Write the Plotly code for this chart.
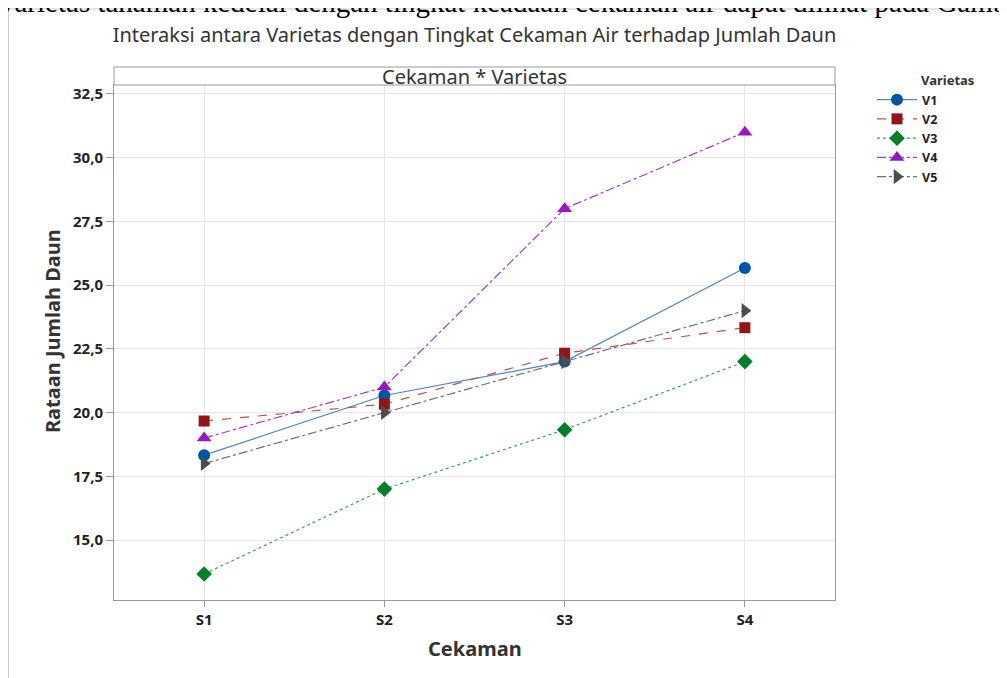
import plotly.graph_objects as go

categories = ["S1", "S2", "S3", "S4"]
series_names = ["V1", "V2", "V3", "V4", "V5"]
v1 = [18.33, 20.67, 22.0, 25.67]
v2 = [19.67, 20.33, 22.33, 23.33]
v3 = [13.67, 17.0, 19.33, 22.0]
v4 = [19.0, 21.0, 28.0, 31.0]
v5 = [18.0, 20.0, 22.0, 24.0]
ytick_vals = [15.0, 17.5, 20.0, 22.5, 25.0, 27.5, 30.0, 32.5]
ytick_text = ["15,0", "17,5", "20,0", "22,5", "25,0", "27,5", "30,0", "32,5"]

series_values = [v1, v2, v3, v4, v5]
line_colors = ["#4F86C6", "#C0504D", "#3DA05A", "#A23FD0", "#707070"]
marker_colors = ["#0054A6", "#931515", "#00802B", "#9A16C4", "#4D4D4D"]
dashes = ["solid", "dash", "dot", "dashdot", "dashdot"]
symbols = ["circle", "square", "diamond", "triangle-up", "triangle-right"]
sizes = [12, 11, 12, 13, 13]

FONT = "Noto Sans"
xs = list(range(len(categories)))

# plot area in page pixels (the page has an 8px body offset)
PL, PR, PT, PB = 114, 835, 85, 600
OFF = 8
W, H = PR - PL, PB - PT


def px_x(x):
    return (x - PL) / W


def px_y(y):
    return (PB - y) / H


fig = go.Figure()
for name, vals, lc, mc, d, s, sz in zip(series_names, series_values, line_colors,
                                        marker_colors, dashes, symbols, sizes):
    fig.add_trace(go.Scatter(
        x=xs, y=vals, name=name, mode="lines+markers",
        line=dict(color=lc, width=1.2, dash=d),
        marker=dict(color=mc, symbol=s, size=sz, line=dict(width=0)),
    ))

fig.update_layout(
    width=1007, height=678,
    paper_bgcolor="white", plot_bgcolor="white",
    margin=dict(l=PL - OFF, r=1007 - (PR - OFF), t=PT - OFF, b=678 - (PB - OFF)),
    font=dict(family=FONT, color="#222"),
    showlegend=True,
    legend=dict(x=px_x(872), xanchor="left", y=px_y(85), yanchor="top",
                font=dict(size=12.5, family=FONT, color="#222", weight="bold"),
                itemwidth=40, tracegroupgap=0, bgcolor="rgba(0,0,0,0)"),
    title=dict(text="Interaksi antara Varietas dengan Tingkat Cekaman Air terhadap Jumlah Daun",
               x=0.5, xref="paper", xanchor="center", y=1 - (35 - OFF) / 678, yanchor="middle",
               font=dict(size=20, family=FONT, color="#333")),
)

fig.update_xaxes(
    range=[-0.5, 3.5], tickvals=xs, ticktext=categories,
    showgrid=True, gridcolor="#E6E6E6", gridwidth=1,
    showline=True, linecolor="#999", linewidth=1, mirror=True,
    ticks="outside", ticklen=6, tickcolor="#999",
    tickfont=dict(size=15, family=FONT, color="#222", weight="bold"),
    zeroline=False,
)
fig.update_yaxes(
    range=[12.65, 32.85], tickvals=ytick_vals, ticktext=ytick_text,
    showgrid=True, gridcolor="#E6E6E6", gridwidth=1,
    showline=True, linecolor="#999", linewidth=1, mirror=True,
    ticks="outside", ticklen=7, tickcolor="#999",
    tickfont=dict(size=15, family=FONT, color="#222", weight="bold"),
    zeroline=False,
)

# panel header strip
fig.add_shape(type="rect", xref="paper", yref="paper", x0=0, x1=1,
              y0=1, y1=px_y(67), line=dict(color="#999", width=1),
              fillcolor="white", layer="above")
fig.add_annotation(text="Cekaman * Varietas", xref="paper", yref="paper",
                   x=0.5, y=px_y(76), xanchor="center", yanchor="middle",
                   showarrow=False, font=dict(size=20, family=FONT, color="#333"))

# legend title
fig.add_annotation(text="<b>Varietas</b>", xref="paper", yref="paper",
                   x=px_x(919), y=px_y(80), xanchor="left", yanchor="middle",
                   showarrow=False, font=dict(size=13, family=FONT, color="#333"))

# axis titles
fig.add_annotation(text="<b>Rataan Jumlah Daun</b>", xref="paper", yref="paper",
                   x=px_x(52), y=px_y(331), xanchor="center", yanchor="middle",
                   textangle=-90, showarrow=False,
                   font=dict(size=20, family=FONT, color="#333"))
fig.add_annotation(text="<b>Cekaman</b>", xref="paper", yref="paper",
                   x=0.5, y=px_y(648), xanchor="center", yanchor="middle",
                   showarrow=False, font=dict(size=20, family=FONT, color="#333"))

# frame of the cropped document
fig.add_shape(type="line", xref="paper", yref="paper",
              x0=px_x(8.5), x1=px_x(8.5), y0=px_y(700), y1=px_y(9),
              line=dict(color="#CCCCCC", width=1))
fig.add_shape(type="line", xref="paper", yref="paper",
              x0=px_x(8.5), x1=px_x(1020), y0=px_y(9), y1=px_y(9),
              line=dict(color="#CCCCCC", width=1))

# cropped document text at top
fig.add_annotation(text="varietas tanaman kedelai dengan tingkat keadaan cekaman air dapat dilihat pada Gambar",
                   xref="paper", yref="paper", x=px_x(-2), y=px_y(20),
                   xanchor="left", yanchor="bottom", showarrow=False,
                   font=dict(size=29, family="Liberation Serif", color="#000"))

fig.write_html("out.html")
